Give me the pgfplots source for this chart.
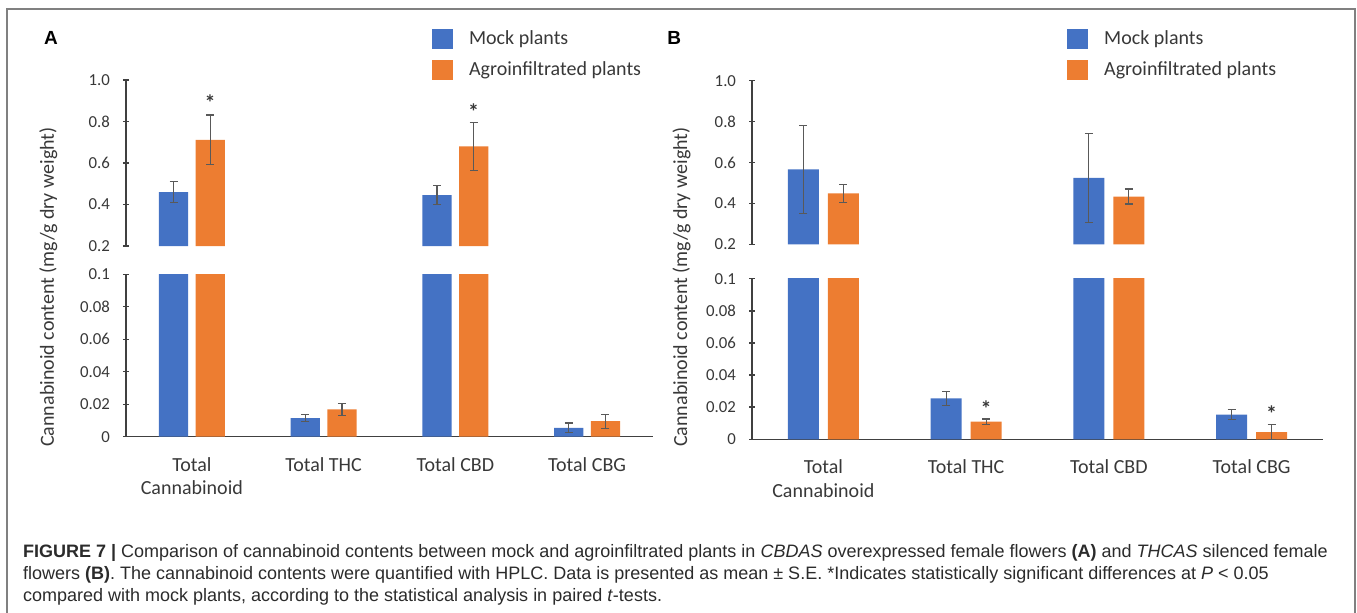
\documentclass[border=0pt]{standalone}
\usepackage{fontspec}
\setmainfont{Carlito}
\newfontfamily\capfont{Liberation Sans}
\usepackage{pgfplots}
\usepackage{pgfplotstable}
\pgfplotsset{compat=1.18}
\definecolor{mockblue}{HTML}{4472C4}
\definecolor{agroorange}{HTML}{ED7D31}
\definecolor{axisgray}{HTML}{404040}
\definecolor{errgray}{HTML}{595959}
\definecolor{textgray}{HTML}{383838}
\definecolor{capgray}{HTML}{2B2B2B}
\definecolor{framegray}{HTML}{808080}
\newcommand\ticksize{\fontsize{8.4}{9.8}\selectfont}
\newcommand\catsize{\fontsize{10}{11.8}\selectfont}
\newcommand\legsize{\fontsize{10}{12}\selectfont}
\newcommand\labsize{\fontsize{10}{12}\selectfont}
\newcommand\capsize{\capfont\fontsize{9}{11}\selectfont}

% Panel A data: value and standard error
\pgfplotstableread{
x mock mockerr agro agroerr
0 0.460 0.050 0.711 0.120
1 0.0115 0.0023 0.0168 0.0037
2 0.445 0.045 0.680 0.117
3 0.0055 0.0030 0.0096 0.0043
}\dataA
% Panel B data
\pgfplotstableread{
x mock mockerr agro agroerr
0 0.567 0.216 0.449 0.043
1 0.0255 0.0042 0.0110 0.0017
2 0.525 0.216 0.434 0.037
3 0.0153 0.0032 0.0044 0.0047
}\dataB

\tikzset{startxt/.style={font=\bfseries\fontsize{11}{12}\selectfont, text=textgray, anchor=base, inner sep=0pt, yshift=-5.5pt}}

\pgfplotsset{
  sqlegend/.style={legend image code/.code={\fill[##1] (0pt,-5pt) rectangle (10.5pt,5pt); \path (16.6pt,0pt);}},
  nolinearrows/.style={
    axis line style={draw=axisgray, line width=0.7pt, -},
    every outer x axis line/.append style={-},
    every outer y axis line/.append style={-},
    every inner x axis line/.append style={-},
    every inner y axis line/.append style={-},
    x axis line style={-}, y axis line style={-}},
  base/.style={
    scale only axis, ybar=#1,
    xmin=-0.5, xmax=3.5, enlarge y limits=false,
    tick align=outside, major tick length=3pt,
    ytick style={draw=axisgray, line width=0.7pt},
    xtick style={draw=none},
    yticklabel style={font=\ticksize, text=textgray, inner sep=0pt, xshift=-6.3pt},
    xticklabel style={font=\catsize, text=textgray, align=center, inner sep=0pt, yshift=-8.6pt},
    /pgf/number format/assume math mode=true,
    every axis plot post/.append style={sqlegend},
    legend cell align=left,
  },
  upper/.style={axis x line=none, axis y line=left, nolinearrows,
    ymin=0.2, ymax=1.0, ytick={0.2,0.4,0.6,0.8,1.0},
    yticklabels={0.2,0.4,0.6,0.8,1.0}},
  lower/.style={axis x line=bottom, axis y line=left, nolinearrows,
    ymin=0, ymax=0.1, ytick={0,0.02,0.04,0.06,0.08,0.1},
    yticklabels={0,0.02,0.04,0.06,0.08,0.1},
    xtick={0,1,2,3},
    xticklabels={{Total\\Cannabinoid},{Total THC},{Total CBD},{Total CBG}}},
  errstyle/.style={error bars/y dir=both, error bars/y explicit,
    error bars/error bar style={draw=errgray, line width=0.6pt},
    error bars/error mark options={draw=errgray, rotate=90, mark size=2pt, line width=0.6pt}},
  mockbar/.style={fill=mockblue, draw=none, errstyle},
  agrobar/.style={fill=agroorange, draw=none, errstyle},
  % in the upper (broken) part, bars that end below 0.2 are left out
  upbar/.style={y filter/.expression={y<0.2 ? nan : y}},
}

\begin{document}
\begin{tikzpicture}
\useasboundingbox (0pt,0pt) rectangle (678.5pt,-306pt);
\draw[framegray, line width=1pt] (3.65pt,-312pt) -- (3.65pt,-4.65pt) -- (677.5pt,-4.65pt) -- (677.5pt,-312pt);

% ---------------- Panel A ----------------
\begin{axis}[base=3.7pt, upper, bar width=14.6pt,
  at={(63pt,-123pt)}, anchor=south west, width=263.5pt, height=83pt,
  legend style={at={(0.5797,1.323)}, anchor=north west, draw=none, fill=none,
    font=\legsize, text=textgray, inner sep=0pt, row sep=2.9pt}]
\addplot[upbar, mockbar] table[x=x, y=mock, y error=mockerr] {\dataA};
\addplot[upbar, agrobar] table[x=x, y=agro, y error=agroerr] {\dataA};
\legend{Mock plants, Agroinfiltrated plants}
\node[startxt] at (axis cs:0,0.907) [xshift=9.15pt] {*};
\node[startxt] at (axis cs:2,0.864) [xshift=9.15pt] {*};
\end{axis}
\begin{axis}[base=3.7pt, lower, bar width=14.6pt,
  at={(63pt,-218.35pt)}, anchor=south west, width=263.5pt, height=81.2pt]
\addplot[mockbar] table[x=x, y=mock, y error=mockerr] {\dataA};
\addplot[agrobar] table[x=x, y=agro, y error=agroerr] {\dataA};
\end{axis}

% ---------------- Panel B ----------------
\begin{axis}[base=4.5pt, upper, bar width=15.5pt,
  at={(376pt,-122.2pt)}, anchor=south west, width=285.5pt, height=81.85pt,
  legend style={at={(0.551,1.332)}, anchor=north west, draw=none, fill=none,
    font=\legsize, text=textgray, inner sep=0pt, row sep=2.9pt}]
\addplot[upbar, mockbar] table[x=x, y=mock, y error=mockerr] {\dataB};
\addplot[upbar, agrobar] table[x=x, y=agro, y error=agroerr] {\dataB};
\legend{Mock plants, Agroinfiltrated plants}
\end{axis}
\begin{axis}[base=4.5pt, lower, bar width=15.5pt,
  at={(376pt,-219.65pt)}, anchor=south west, width=285.5pt, height=80.3pt]
\addplot[mockbar] table[x=x, y=mock, y error=mockerr] {\dataB};
\addplot[agrobar] table[x=x, y=agro, y error=agroerr] {\dataB};
\node[startxt] at (axis cs:1,0.0209) [xshift=10pt] {*};
\node[startxt] at (axis cs:3,0.0182) [xshift=10pt] {*};
\end{axis}

% panel letters and y labels
\node[font=\capfont\bfseries\fontsize{9.5}{11}\selectfont, text=black, inner sep=0pt] at (25.5pt,-18.75pt) {A};
\node[font=\capfont\bfseries\fontsize{9.5}{11}\selectfont, text=black, inner sep=0pt, anchor=west] at (333.5pt,-18.75pt) {B};
\node[rotate=90, anchor=base, inner sep=0pt, font=\labsize, text=textgray] at (27pt,-143.5pt) {Cannabinoid content (mg/g dry weight)};
\node[rotate=90, anchor=base, inner sep=0pt, font=\labsize, text=textgray] at (343.5pt,-143.5pt) {Cannabinoid content (mg/g dry weight)};

% caption
\node[anchor=base west, inner sep=0pt, font=\capsize, text=capgray] at (11.35pt,-278.5pt)
  {\textbf{FIGURE 7 |} Comparison of cannabinoid contents between mock and agroinfiltrated plants in \textit{CBDAS} overexpressed female flowers \textbf{(A)} and \textit{THCAS} silenced female};
\node[anchor=base west, inner sep=0pt, font=\capsize, text=capgray] at (11.35pt,-289.5pt)
  {flowers \textbf{(B)}. The cannabinoid contents were quantified with HPLC. Data is presented as mean ± S.E. *Indicates statistically significant differences at \textit{P} < 0.05};
\node[anchor=base west, inner sep=0pt, font=\capsize, text=capgray] at (11.35pt,-300.5pt)
  {compared with mock plants, according to the statistical analysis in paired \textit{t}-tests.};
\end{tikzpicture}
\end{document}
